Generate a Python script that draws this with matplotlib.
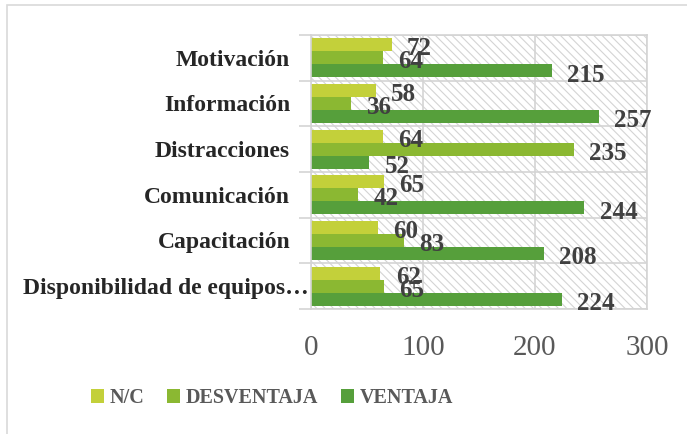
import numpy as np
import matplotlib.pyplot as plt
from matplotlib.patches import Rectangle
from matplotlib.transforms import ScaledTranslation

categorias = ['Motivación', 'Información', 'Distracciones', 'Comunicación',
              'Capacitación', 'Disponibilidad de equipos…']
nc = [72, 58, 64, 65, 60, 62]
desventaja = [64, 36, 235, 42, 83, 65]
ventaja = [215, 257, 52, 244, 208, 224]
series = [('N/C', nc, '#C3D03A'), ('DESVENTAJA', desventaja, '#8BB832'),
          ('VENTAJA', ventaja, '#569F3B')]

plt.rcParams['font.family'] = 'Liberation Serif'
plt.rcParams['hatch.linewidth'] = 0.8
plt.rcParams['hatch.color'] = '#d4d4d4'

fig = plt.figure(figsize=(6.87, 4.34), dpi=100)
# marco exterior
fig.patches.append(Rectangle((7/687, -0.05), 1.0, 1 - 5/434 + 0.05,
                             transform=fig.transFigure, fill=False,
                             edgecolor='#d9d9d9', lw=1.2))
ax = fig.add_axes([311/687, 1 - 309/434, 336/687, 274/434])

# fondo rayado
ax.add_patch(Rectangle((0, 0), 1, 1, transform=ax.transAxes, facecolor='white',
                       edgecolor='#d4d4d4', hatch='\\\\\\\\', lw=0, zorder=0))

y = np.arange(len(categorias))
h = 0.285
for i, (nombre, vals, col) in enumerate(series):
    pos = y + (i - 1) * h
    ax.barh(pos, vals, height=h, color=col, label=nombre, zorder=2)
    for p, v in zip(pos, vals):
        ax.annotate(str(v), (v, p), xytext=(11, -3), textcoords='offset points',
                    ha='left', va='center', fontsize=18, fontweight='bold',
                    color='#404040', zorder=3)

ax.set_xlim(0, 300)
ax.set_ylim(len(categorias) - 0.5, -0.5)
ax.set_xticks([0, 100, 200, 300])
ax.tick_params(axis='x', length=0, labelsize=21, colors='#595959', pad=19)
ax.set_yticks(y)
ax.set_yticklabels(categorias, fontsize=17, fontweight='bold', color='#262626')
ax.tick_params(axis='y', which='major', length=0, pad=15)
# la etiqueta larga queda pegada al eje, como en el original
ult = ax.get_yticklabels()[-1]
ult.set_transform(ult.get_transform() + ScaledTranslation(0.18, 0, fig.dpi_scale_trans))
ax.set_yticks(np.arange(-0.5, len(categorias)), minor=True)
ax.tick_params(axis='y', which='minor', length=9, color='#d4d4d4', width=1.2)
ax.grid(axis='y', which='minor', color='#d4d4d4', lw=1.2, zorder=1)
ax.grid(axis='x', which='major', color='#d4d4d4', lw=1.2, zorder=1)
for s in ax.spines.values():
    s.set_color('#d4d4d4')
    s.set_linewidth(1.2)

ax.legend(loc='center', bbox_to_anchor=(272/687, 36/434),
          bbox_transform=fig.transFigure, ncol=3, frameon=False,
          prop={'size': 14.5, 'weight': 'bold'}, labelcolor='#595959',
          handlelength=0.65, handleheight=0.65, handletextpad=0.3,
          columnspacing=1.1)

fig.savefig('out.png', dpi=100)
